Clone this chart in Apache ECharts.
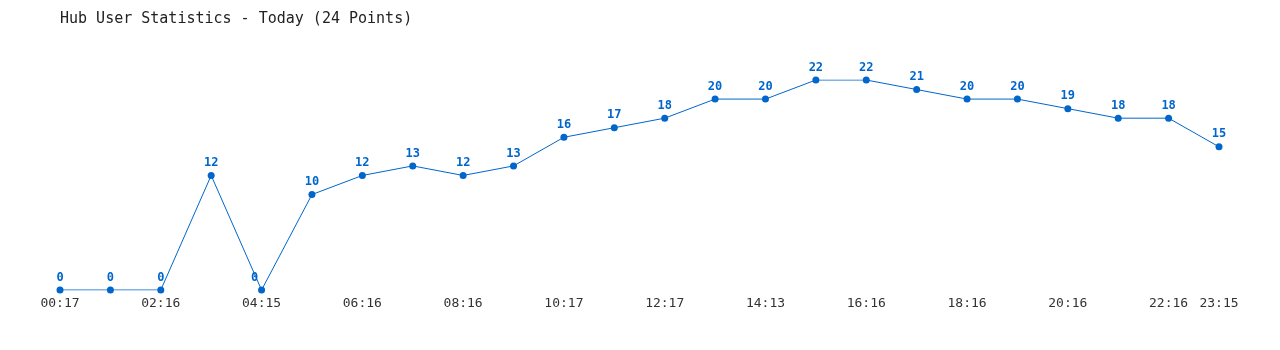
<!DOCTYPE html>
<html>
<head>
<meta charset="utf-8">
<script src="https://cdn.jsdelivr.net/npm/echarts@6/dist/echarts.min.js"></script>
<style>
html,body{margin:0;padding:0;background:#fff;}
#chart{width:1280px;height:350px;}
</style>
</head>
<body>
<div id="chart"></div>
<script>
const titleText = "Hub User Statistics - Today (24 Points)";
const categories = ["00:17","01:17","02:16","03:16","04:15","05:15","06:16","07:16","08:16","09:16","10:17","11:17","12:17","13:17","14:13","15:13","16:16","17:16","18:16","19:16","20:16","21:16","22:16","23:15"];
const users = [0,0,0,12,0,10,12,13,12,13,16,17,18,20,20,22,22,21,20,20,19,18,18,15];

const chart = echarts.init(document.getElementById('chart'), null, {renderer:'canvas'});
const mono = "'DejaVu Sans Mono', 'Liberation Mono', monospace";
const seriesData = users.map(function(v, i){
  // the reference nudges the label of the 04:15 point slightly to the left
  return i === 4 ? {value:v, label:{offset:[-7,0]}} : v;
});
chart.setOption({
  animation:false,
  backgroundColor:'#ffffff',
  title:{
    text:titleText,
    left:55, top:7,
    textStyle:{fontFamily:mono, fontSize:15, fontWeight:'normal', color:'#222222'}
  },
  grid:{left:60, right:61, top:80, bottom:60},
  xAxis:{
    type:'category',
    data:categories,
    boundaryGap:false,
    axisLine:{show:false},
    axisTick:{show:false},
    splitLine:{show:false},
    axisLabel:{
      interval:function(i){ return i % 2 === 0 || i === categories.length-1; },
      margin:7,
      fontFamily:mono, fontSize:13, color:'#333333'
    }
  },
  yAxis:{
    type:'value', min:0, max:22,
    show:false,
    splitLine:{show:false}
  },
  series:[{
    type:'line',
    data:seriesData,
    symbol:'circle',
    symbolSize:7,
    lineStyle:{color:'#0066cc', width:1},
    itemStyle:{color:'#0066cc'},
    label:{
      show:true, position:'top', distance:3,
      fontFamily:mono, fontSize:12, fontWeight:'bold', color:'#0066cc'
    }
  }]
});
</script>
</body>
</html>
